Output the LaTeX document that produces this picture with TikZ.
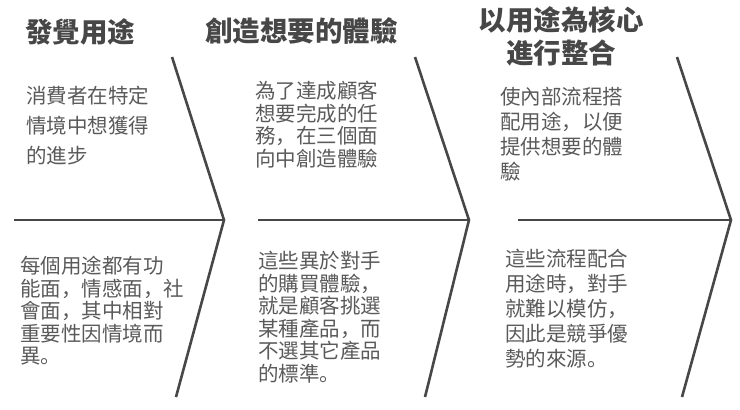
\documentclass[tikz,border=0pt]{standalone}
\usepackage{fontspec}
\newfontfamily\cjk{Noto Sans CJK SC}
\definecolor{inkgray}{HTML}{474747}
\definecolor{textgray}{HTML}{5A5A5A}
\tikzstyle{divider}=[inkgray, line width=2.6bp, line join=miter]
\tikzstyle{heading}=[inner sep=0pt, text=inkgray, font=\cjk\bfseries\fontsize{27.5bp}{33bp}\selectfont]
\tikzstyle{body}=[inner sep=0pt, align=left, text=textgray]
\tikzstyle{body wide}=[body, font=\cjk\fontsize{20.5bp}{30bp}\selectfont]
\tikzstyle{body tight}=[body, font=\cjk\fontsize{20.5bp}{22.5bp}\selectfont]
\tikzstyle{body mid}=[body, font=\cjk\fontsize{20.5bp}{25bp}\selectfont]

\begin{document}
\begin{tikzpicture}[x=1bp, y=-1bp]
      \useasboundingbox (0, 0) rectangle (740, 409);

      % headings
      \node[heading, anchor=north west] (findhead) at (25, 18) {發覺用途};
      \node[heading, anchor=north west] (exphead) at (205, 17) {創造想要的體驗};
      \node[heading, anchor=north, align=center] (integhead) at (561, 6)
        {以用途為核心\\進行整合};

      % chevrons
      \coordinate (findtop) at (172, 57);
      \coordinate (findtip) at (224, 220);
      \coordinate (findbot) at (176, 397);
      \coordinate (findleft) at (14, 220);
      \coordinate (exptop) at (415, 57);
      \coordinate (exptip) at (469, 220);
      \coordinate (expbot) at (425, 397);
      \coordinate (expleft) at (258, 220);
      \coordinate (integtop) at (677, 57);
      \coordinate (integtip) at (731, 220);
      \coordinate (integbot) at (682, 397);
      \coordinate (integleft) at (518, 220);
      \draw[divider] (findtop) -- (findtip) -- (findbot);
      \draw[divider] (findleft) -- (findtip);
      \draw[divider] (exptop) -- (exptip) -- (expbot);
      \draw[divider] (expleft) -- (exptip);
      \draw[divider] (integtop) -- (integtip) -- (integbot);
      \draw[divider] (integleft) -- (integtip);

      % upper texts
      \node[body wide, anchor=north west] (findup) at (26, 86)
        {消費者在特定\\情境中想獲得\\的進步};
      \node[body tight, anchor=north west] (expup) at (255, 81)
        {為了達成顧客\\想要完成的任\\務，在三個面\\向中創造體驗};
      \node[body mid, anchor=north west] (integup) at (500, 87)
        {使內部流程搭\\配用途，以便\\提供想要的體\\驗};

      % lower texts
      \node[body tight, anchor=north west] (finddown) at (20, 256)
        {每個用途都有功\\能面，情感面，社\\會面，其中相對\\重要性因情境而\\異。};
      \node[body tight, anchor=north west] (expdown) at (258, 251)
        {這些異於對手\\的購買體驗，\\就是顧客挑選\\某種產品，而\\不選其它產品\\的標準。};
      \node[body mid, anchor=north west] (integdown) at (505, 249)
        {這些流程配合\\用途時，對手\\就難以模仿，\\因此是競爭優\\勢的來源。};
    \end{tikzpicture}
\end{document}
